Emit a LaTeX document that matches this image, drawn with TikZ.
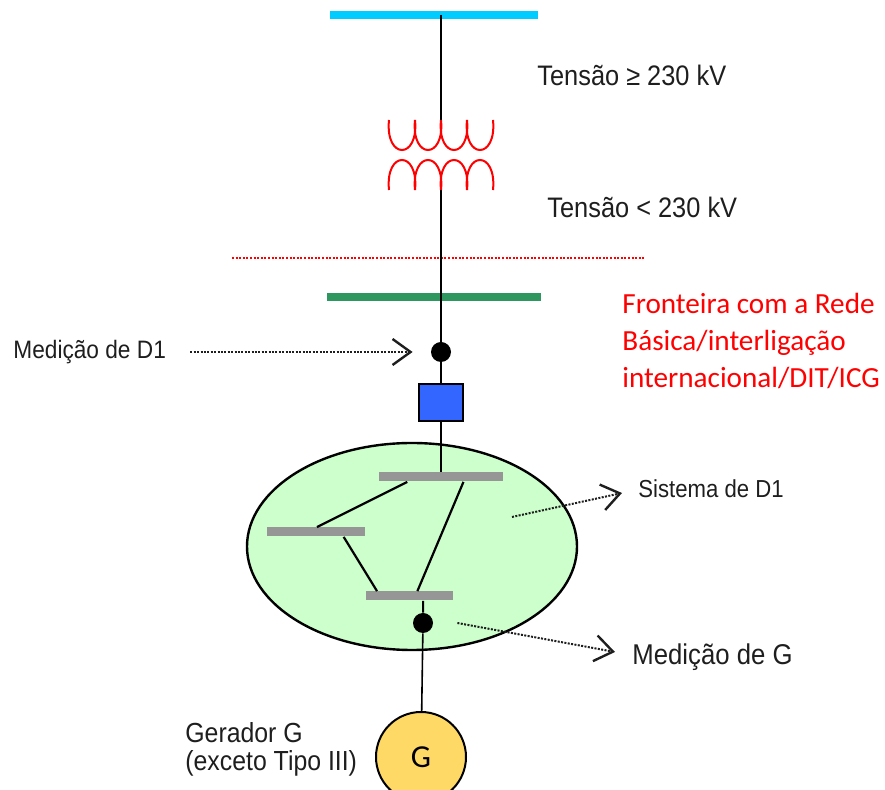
\documentclass[tikz,border=0pt]{standalone}
\usepackage{fontspec}
\setmainfont{Liberation Sans}
\newfontfamily\arialfont[FakeStretch=0.9]{Liberation Sans}
\newfontfamily\calibrifont{Carlito}
\usetikzlibrary{arrows.meta,shapes.geometric,calc}

\definecolor{buscyan}{RGB}{0,204,255}
\definecolor{busgreen}{RGB}{46,150,95}
\definecolor{breakerblue}{RGB}{51,102,255}
\definecolor{sysgreen}{RGB}{204,255,204}
\definecolor{bargray}{RGB}{150,150,150}
\definecolor{genyellow}{RGB}{255,217,102}
\definecolor{labelgray}{RGB}{30,30,30}

\begin{document}
\begin{tikzpicture}[x=0.5pt,y=-0.5pt,
    bus/.style={rectangle, inner sep=0pt, minimum height=4pt},
    subbar/.style={rectangle, inner sep=0pt, minimum height=4.5pt, fill=bargray},
    meter/.style={circle, fill=black, inner sep=0pt, minimum size=10pt},
    wire/.style={line width=1pt},
    link/.style={line width=1.1pt},
    coil/.style={red, line width=1pt},
    pointer/.style={labelgray, line width=1pt, dash pattern=on 1pt off 0.7pt,
        -{Straight Barb[length=9pt,width=13pt,line width=1.2pt]}},
    lbl/.style={text=labelgray, inner sep=0pt, anchor=west}]
    \useasboundingbox (0,0) rectangle (885,790);

    % Buses and frontier
    \node[bus, fill=buscyan, minimum width=104pt] (busHV) at (434,15) {};
    \coordinate (frontL) at (232,258);
    \coordinate (frontR) at (645,258);
    \draw[red, line width=1pt, dash pattern=on 1pt off 0.8pt] (frontL) -- (frontR);
    \node[bus, fill=busgreen, minimum width=107pt] (busLV) at (434,297) {};

    % Transformer
    \coordinate (trTop) at (441,120);
    \coordinate (trBot) at (441,190);
    \foreach \i in {0,...,3} {
        \draw[coil] ({389+26*\i},120) .. controls ({385+26*\i},160) and ({419+26*\i},160) .. ({415+26*\i},120);
        \draw[coil] ({389+26*\i},190) .. controls ({385+26*\i},150) and ({419+26*\i},150) .. ({415+26*\i},190);
    }
    \draw[wire] (busHV.center -| trTop) -- (trTop);

    % Metering point and breaker
    \node[meter] (mD1) at (441,352) {};
    \node[rectangle, draw, line width=1pt, fill=breakerblue, minimum width=22pt, minimum height=18.5pt, inner sep=0pt] (cb) at (441,403) {};
    \draw[wire] (trBot) -- (mD1);
    \draw[wire] (mD1) -- (cb);

    % Distribution system D1
    \node[ellipse, draw, line width=1.2pt, fill=sysgreen, minimum width=165pt, minimum height=103.5pt, inner sep=0pt] (sysD1) at (412,546.5) {};
    \node[subbar, minimum width=62pt] (barA) at (441,477) {};
    \node[subbar, minimum width=49pt] (barB) at (316,532) {};
    \node[subbar, minimum width=43.5pt] (barC) at (409.5,596) {};
    \draw[wire] (cb) -- (barA);
    \draw[link] ($(barA.south west)!0.23!(barA.south east)$) -- ($(barB.north west)!0.51!(barB.north east)$);
    \draw[link] ($(barA.south west)!0.68!(barA.south east)$) -- ($(barC.north west)!0.59!(barC.north east)$);
    \draw[link] ($(barB.south west)!0.78!(barB.south east)$) -- ($(barC.north west)!0.13!(barC.north east)$);

    % Generator
    \node[meter] (mG) at (423,623) {};
    \node[circle, draw, line width=1pt, fill=genyellow, minimum size=45pt, inner sep=0pt, font=\calibrifont\fontsize{16}{18}\selectfont] (gen) at (421,757) {G};
    \draw[wire] ($(barC.south west)!0.655!(barC.south east)$) -- (mG);
    \draw[line width=0.8pt] (mG) -- (gen);

    % Labels
    \node[lbl, font=\arialfont\fontsize{14.1}{16}\selectfont] (lblHV) at (537,75) {Tensão ≥ 230 kV};
    \node[lbl, font=\arialfont\fontsize{14.1}{16}\selectfont] (lblLV) at (547,207) {Tensão < 230 kV};
    \node[lbl, text=red, align=left, font=\calibrifont\fontsize{14.6}{18.5}\selectfont] (lblFront) at (622,341) {Fronteira com a Rede\\Básica/interligação\\internacional/DIT/ICG};
    \node[lbl, font=\arialfont\fontsize{12.6}{15}\selectfont] (lblMD1) at (13,352) {Medição de D1};
    \node[lbl, font=\arialfont\fontsize{12.3}{15}\selectfont] (lblSys) at (638,489) {Sistema de D1};
    \node[lbl, font=\arialfont\fontsize{14.3}{17}\selectfont] (lblMG) at (632,657) {Medição de G};
    \node[lbl, align=left, font=\arialfont\fontsize{13.8}{14}\selectfont] (lblGen) at (185,749) {Gerador G\\(exceto Tipo III)};

    % Pointers
    \coordinate (sysIn) at (512,517);
    \draw[pointer] ([xshift=12pt]lblMD1.east) -- ([xshift=-9pt]mD1.west);
    \draw[pointer] (sysIn) -- ([xshift=-8pt,yshift=-2pt]lblSys.west);
    \draw[pointer] ([xshift=12pt]mG.east) -- ([xshift=-8.5pt,yshift=2.5pt]lblMG.west);
\end{tikzpicture}
\end{document}
